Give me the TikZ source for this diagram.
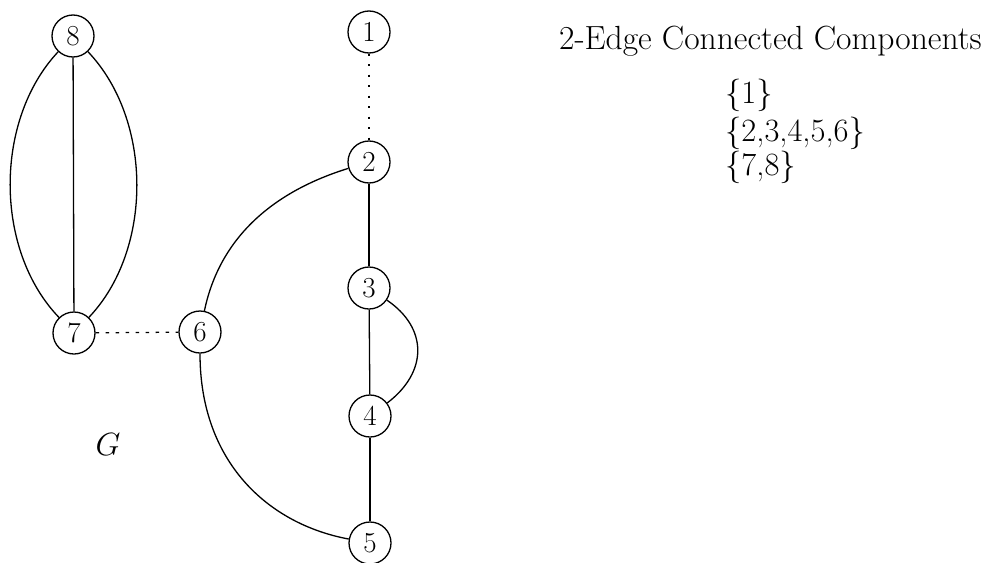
\documentclass[tikz,border=0pt]{standalone}
\begin{document}
\begin{tikzpicture}[x=1pt,y=-1pt,
  vtx/.style={circle,draw,line width=1.3pt,minimum size=42pt,inner sep=0pt,font=\fontsize{29}{29}\selectfont},
  edge/.style={line width=1.3pt},
  dotedge/.style={line width=1.5pt,dash pattern=on 2pt off 8.5pt},
  dashedge/.style={line width=1.3pt,dash pattern=on 3.5pt off 6.5pt},
  lbl/.style={anchor=base west,inner sep=0pt,font=\fontsize{33}{33}\selectfont}]
\useasboundingbox (0,0) rectangle (987,562);
\node[vtx] (v8) at (73,36) {8};
\node[vtx] (v7) at (74,333) {7};
\node[vtx] (v6) at (200,332) {6};
\node[vtx] (v1) at (369,32) {1};
\node[vtx] (v2) at (369,162) {2};
\node[vtx] (v3) at (369,288) {3};
\node[vtx] (v4) at (370,416) {4};
\node[vtx] (v5) at (370,543) {5};
\draw[edge] (v8) -- (v7);
\draw[edge] (v8) .. controls (-6,120) and (-6,250) .. (v7);
\draw[edge] (v8) .. controls (153,120) and (153,250) .. (v7);
\draw[dashedge] (v7) -- (v6);
\draw[dotedge] (v1) -- (v2);
\draw[edge] (v2) -- (v3);
\draw[edge] (v3) -- (v4);
\draw[edge] (v4) -- (v5);
\draw[edge] (v3) .. controls (428,328) and (428,372) .. (v4);
\draw[edge] (v2) .. controls (275,191) and (220,236) .. (v6);
\draw[edge] (v6) .. controls (200,462) and (268,524) .. (v5);
\node[inner sep=0pt,scale=1.55,font=\fontsize{20.74}{25}\selectfont] (g) at (108,445) {$G$};
\node[lbl,font=\fontsize{33.5}{33.5}\selectfont] (title) at (559,49) {2-Edge Connected Components};
\node[lbl,font=\fontsize{32.5}{32.5}\selectfont] (c1) at (725,103) {\{1\}};
\node[lbl,font=\fontsize{32.5}{32.5}\selectfont] (c2) at (725,141) {\{2,3,4,5,6\}};
\node[lbl,font=\fontsize{32.5}{32.5}\selectfont] (c3) at (725,175) {\{7,8\}};
\end{tikzpicture}
\end{document}
